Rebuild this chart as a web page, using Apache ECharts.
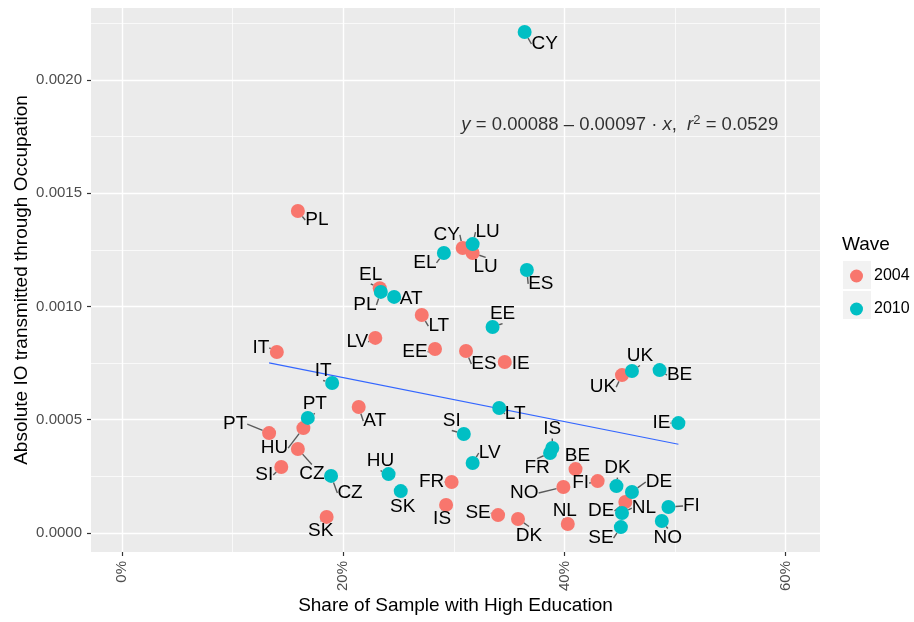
<!DOCTYPE html>
<html>
<head>
<meta charset="utf-8">
<script src="https://cdnjs.cloudflare.com/ajax/libs/echarts/6.0.0/echarts.min.js"></script>
<style>
  html, body { margin: 0; padding: 0; background: #fff; }
  #main { width: 914px; height: 622px; }
</style>
</head>
<body>
<div id="main"></div>
<script>
// countries (same order in every array)
const countries = ['AT','BE','CY','CZ','DE','DK','EE','EL','ES','FI','FR','HU','IE',
                   'IS','IT','LT','LU','LV','NL','NO','PL','PT','SE','SI','SK','UK'];

// share with high education (%) and absolute IO transmitted through occupation
const edu2004 = [21.4, 41.0, 30.8, 15.9, 45.5, 35.8, 28.3, 23.3, 31.1, 43.0, 29.8, 16.4, 34.6,
                 29.3, 14.0, 27.1, 31.7, 22.9, 40.3, 39.9, 15.9, 13.3, 34.0, 14.4, 18.5, 45.2];
const io2004  = [0.000556, 0.000282, 0.001258, 0.000371, 0.000137, 0.000062, 0.000812, 0.001080,
                 0.000803, 0.000229, 0.000225, 0.000463, 0.000755, 0.000124, 0.000799, 0.000962,
                 0.001236, 0.000861, 0.000040, 0.000203, 0.001421, 0.000441, 0.000079, 0.000291,
                 0.000071, 0.000697];
const edu2010 = [24.6, 48.6, 36.4, 18.9, 46.1, 44.7, 33.5, 29.1, 36.6, 49.4, 38.7, 24.1, 50.3,
                 38.9, 19.0, 34.1, 31.7, 31.7, 45.2, 48.8, 23.4, 16.8, 45.1, 30.9, 25.2, 46.1];
const io2010  = [0.001042, 0.000719, 0.002211, 0.000252, 0.000181, 0.000207, 0.000909, 0.001236,
                 0.001161, 0.000115, 0.000353, 0.000260, 0.000485, 0.000375, 0.000662, 0.000552,
                 0.001275, 0.000309, 0.000088, 0.000053, 0.001064, 0.000508, 0.000026, 0.000437,
                 0.000185, 0.000715];

// fit shown in the annotation
const fitIntercept = 0.00088;
const fitSlope = -0.00097;

// ticks
const xMajor = [0, 20, 40, 60];
const xMinor = [10, 30, 50];
const yMajor = [0, 0.0005, 0.0010, 0.0015, 0.0020];
const yMinor = [0.00025, 0.00075, 0.00125, 0.00175, 0.00225];

// axis ranges
const xMin = -2.8, xMax = 63.1;
const yMin = -0.0000838, yMax = 0.002317;

// label placement (repel-like offsets, px) -- layout only
const off2004 = [[16,14],[2,-13],[-16,-13],[14,25],[-24,9],[11,17],[-20,3],[-9,-14],[18,13],[-17,2],
                 [-20,0],[-29,20],[16,2],[-4,14],[-16,-4],[17,11],[13,14],[-18,4],[-3,-13],[-39,6],
                 [19,9],[-34,-9],[-20,-2],[-17,8],[-6,14],[-19,12]];
const off2010 = [[17,2],[20,5],[20,12],[19,17],[27,-10],[1,-18],[10,-13],[-19,10],[14,14],[23,-1],
                 [-13,15],[-8,-13],[-17,0],[0,-19],[-9,-12],[16,6],[15,-12],[17,-10],[22,-5],[6,17],
                 [-16,13],[7,-14],[-20,11],[-12,-13],[2,16],[8,-15]];

const FONT = '"Liberation Sans", Arial, Helvetica, sans-serif';

const allEdu = edu2004.concat(edu2010);
const xLo = Math.min(...allEdu), xHi = Math.max(...allEdu);
const fitLine = [xLo, xHi].map(x => [x, fitIntercept + fitSlope * x / 100]);

function pointSeries(name, xs, ys, color, offs) {
    return {
        name: name,
        type: 'scatter',
        z: 3,
        symbolSize: 14,
        itemStyle: { color: color, opacity: 1 },
        data: xs.map((x, i) => [x, ys[i]]),
        label: {
            show: true,
            position: 'inside',
            fontFamily: FONT,
            fontSize: 19,
            color: '#000',
            formatter: p => countries[p.dataIndex]
        },
        labelLine: { show: true, lineStyle: { color: '#5a5a5a', width: 1.4 } },
        labelLayout: p => ({ dx: offs[p.dataIndex][0], dy: offs[p.dataIndex][1] }),
        emphasis: { disabled: true }
    };
}

// panel grid lines (white, major thicker than minor)
const gridLines = [];
xMajor.forEach(v => gridLines.push([{ coord: [v, yMin], lineStyle: { width: 1.4 } }, { coord: [v, yMax] }]));
xMinor.forEach(v => gridLines.push([{ coord: [v, yMin], lineStyle: { width: 0.7 } }, { coord: [v, yMax] }]));
yMajor.forEach(v => gridLines.push([{ coord: [xMin, v], lineStyle: { width: 1.4 } }, { coord: [xMax, v] }]));
yMinor.forEach(v => gridLines.push([{ coord: [xMin, v], lineStyle: { width: 0.7 } }, { coord: [xMax, v] }]));

let myChart = echarts.init(document.getElementById('main'));
let option = {
    animation: false,
    textStyle: { fontFamily: FONT },
    grid: {
        left: 91, right: 94, top: 8, bottom: 70,
        containLabel: false,
        outerBoundsMode: 'none',
        show: true, backgroundColor: '#EBEBEB', borderWidth: 0
    },
    xAxis: {
        type: 'value',
        min: xMin, max: xMax,
        name: 'Share of Sample with High Education',
        nameLocation: 'middle',
        nameGap: 44,
        nameMoveOverlap: false,
        nameTextStyle: { fontSize: 19, color: '#000', fontFamily: FONT },
        axisLine: { show: false, onZero: false },
        splitLine: { show: false },
        axisTick: { show: true, customValues: xMajor, length: 4, lineStyle: { color: '#333', width: 1.2 } },
        axisLabel: {
            customValues: xMajor, rotate: 90, margin: 9,
            fontSize: 15, color: '#4D4D4D', fontFamily: FONT,
            formatter: v => v + '%'
        }
    },
    yAxis: {
        type: 'value',
        min: yMin, max: yMax,
        name: 'Absolute IO transmitted through Occupation',
        nameLocation: 'middle',
        nameGap: 60,
        nameMoveOverlap: false,
        nameTextStyle: { fontSize: 19, color: '#000', fontFamily: FONT },
        axisLine: { show: false, onZero: false },
        splitLine: { show: false },
        axisTick: { show: true, customValues: yMajor, length: 4, lineStyle: { color: '#333', width: 1.2 } },
        axisLabel: {
            customValues: yMajor, margin: 9,
            fontSize: 15, color: '#4D4D4D', fontFamily: FONT,
            formatter: v => v.toFixed(4)
        }
    },
    legend: {
        data: ['2004', '2010'],
        orient: 'vertical',
        left: 845, top: 263,
        itemWidth: 13, itemHeight: 13, itemGap: 17,
        icon: 'circle',
        textStyle: { fontSize: 16, color: '#000', fontFamily: FONT, padding: [0, 0, 0, 6] },
        selectedMode: false
    },
    graphic: [
        { type: 'text', left: 842, top: 235, style: { text: 'Wave', fontSize: 19, fill: '#000', fontFamily: FONT } },
        { type: 'rect', z: -1, shape: { x: 843, y: 261, width: 28, height: 28 }, style: { fill: '#F2F2F2' } },
        { type: 'rect', z: -1, shape: { x: 843, y: 291, width: 28, height: 28 }, style: { fill: '#F2F2F2' } }
    ],
    series: [
        {
            name: 'grid',
            type: 'line',
            z: 1,
            data: fitLine,
            showSymbol: false,
            silent: true,
            lineStyle: { opacity: 0 },
            markLine: {
                z: 1,
                silent: true,
                symbol: 'none',
                label: { show: false },
                lineStyle: { color: '#FFFFFF', type: 'solid' },
                emphasis: { disabled: true },
                data: gridLines
            }
        },
        {
            name: 'fit',
            type: 'line',
            z: 2,
            data: fitLine,
            showSymbol: false,
            silent: true,
            lineStyle: { color: '#3366FF', width: 1.1 }
        },
        pointSeries('2004', edu2004, io2004, '#F8766D', off2004),
        pointSeries('2010', edu2010, io2010, '#00BFC4', off2010),
        {
            name: 'eq',
            type: 'scatter',
            z: 4,
            symbolSize: 0,
            silent: true,
            data: [[45.0, 0.00180]],
            label: {
                show: true,
                position: 'inside',
                fontFamily: FONT,
                fontSize: 18.5,
                color: '#000',
                formatter: '{i|y} = 0.00088 \u2013 0.00097 \u00b7 {i|x},  {i|r}{s|2} = 0.0529',
                rich: {
                    i: { fontStyle: 'italic', fontSize: 18.5, fontFamily: FONT },
                    s: { fontSize: 13, fontFamily: FONT, verticalAlign: 'top', padding: [0, 0, 9, 0] }
                }
            }
        }
    ]
};

option && myChart.setOption(option);
</script>
</body>
</html>
